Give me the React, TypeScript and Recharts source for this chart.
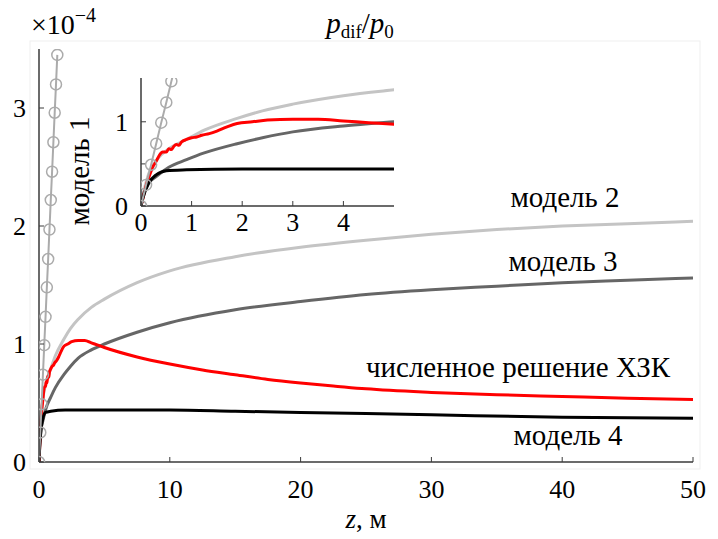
import { LineChart, Line, XAxis, YAxis, CartesianGrid } from 'recharts';

// z in metres, values in units of 1e-4 (p_dif / p_0)
const Z_MODEL1 = [0, 0.1, 0.2, 0.3, 0.4, 0.5, 0.6, 0.7, 0.8, 0.9, 1.0, 1.1, 1.2, 1.3, 1.4];
const V_MODEL1 = [0, 0.25, 0.49, 0.74, 0.99, 1.23, 1.48, 1.72, 1.97, 2.22, 2.46, 2.71, 2.96, 3.2, 3.45];

const Z_MODEL2 = [0, 0.03, 0.15, 0.3, 0.55, 0.9, 1.25, 1.9, 2.4, 3, 4, 5, 7.5, 10, 15, 20, 25, 30, 35, 40, 45, 50];
const V_MODEL2 = [0, 0.1, 0.38, 0.54, 0.68, 0.79, 0.9, 1.04, 1.13, 1.21, 1.31, 1.38, 1.52, 1.62, 1.74, 1.82, 1.88, 1.93, 1.97, 2.0, 2.02, 2.04];

const Z_MODEL3 = [0, 0.03, 0.15, 0.3, 0.55, 0.9, 1.25, 1.9, 2.4, 3, 4, 5, 7.5, 10, 15, 20, 25, 30, 35, 40, 45, 50];
const V_MODEL3 = [0, 0.1, 0.27, 0.35, 0.46, 0.55, 0.63, 0.74, 0.81, 0.88, 0.95, 1.0, 1.1, 1.18, 1.29, 1.36, 1.42, 1.46, 1.49, 1.52, 1.54, 1.56];

const Z_MODEL4 = [0, 0.04, 0.15, 0.3, 0.5, 0.9, 2, 5, 10, 15, 20, 30, 40, 50];
const V_MODEL4 = [0, 0.1, 0.27, 0.37, 0.42, 0.43, 0.44, 0.44, 0.44, 0.43, 0.42, 0.4, 0.38, 0.37];

// numerical solution, with fine noise near the source
const Z_NUM = [0, 0.05, 0.1, 0.16, 0.23, 0.3, 0.36, 0.43, 0.5, 0.55, 0.6, 0.65, 0.7, 0.75, 0.8, 0.9, 1.0, 1.1, 1.2, 1.35, 1.5, 1.7, 1.9, 2.2, 2.5, 3, 3.5, 4, 4.5, 5, 7.5, 10, 12.5, 15, 17.5, 20, 22.5, 25, 30, 35, 40, 45, 50];
const V_NUM = [0, 0.12, 0.24, 0.35, 0.46, 0.53, 0.6, 0.64, 0.64, 0.68, 0.67, 0.71, 0.73, 0.72, 0.76, 0.79, 0.81, 0.82, 0.84, 0.86, 0.89, 0.94, 0.98, 1.0, 1.02, 1.03, 1.03, 1.01, 0.99, 0.97, 0.89, 0.83, 0.78, 0.74, 0.7, 0.67, 0.645, 0.62, 0.59, 0.57, 0.555, 0.54, 0.53];

const MAIN_X_TICKS = [0, 10, 20, 30, 40, 50];
const MAIN_Y_TICKS = [0, 1, 2, 3];
const INSET_X_TICKS = [0, 1, 2, 3, 4];
const INSET_Y_TICKS = [0, 0.5, 1];

const zip = (zs: number[], vs: number[]) => zs.map((z, i) => ({ z, v: vs[i] }));

const model1 = zip(Z_MODEL1, V_MODEL1);
const model2 = zip(Z_MODEL2, V_MODEL2);
const model3 = zip(Z_MODEL3, V_MODEL3);
const model4 = zip(Z_MODEL4, V_MODEL4);
const numeric = zip(Z_NUM, V_NUM);

const FONT = 'Liberation Serif, DejaVu Serif, serif';
const FRAME = '#3a3a3a';
const tickStyle = { fontSize: 26, fill: '#000', fontFamily: FONT };

function curves() {
  const common = { dataKey: 'v', xAxisId: 'b', yAxisId: 'l', isAnimationActive: false };
  return [
    <Line key="m2" {...common} data={model2} type="monotone" stroke="#c4c4c4" strokeWidth={3} dot={false} />,
    <Line key="m3" {...common} data={model3} type="monotone" stroke="#666666" strokeWidth={3} dot={false} />,
    <Line key="num" {...common} data={numeric} type="monotone" stroke="#ff0000" strokeWidth={3} dot={false} />,
    <Line key="m4" {...common} data={model4} type="monotone" stroke="#000000" strokeWidth={3} dot={false} />,
    <Line
      key="m1"
      {...common}
      data={model1}
      type="linear"
      stroke="#ababab"
      strokeWidth={2}
      dot={{ r: 5.5, stroke: '#ababab', strokeWidth: 1.5, fill: 'none' }}
    />,
  ];
}

// box with inward ticks on all four sides
function frame({ xDomain, yDomain, xTicks, yTicks, xMargin, yMargin, yFmt }: any) {
  const line = { stroke: FRAME, strokeWidth: 1.5 };
  return [
    <XAxis
      key="xb"
      xAxisId="b"
      dataKey="z"
      type="number"
      domain={xDomain}
      ticks={xTicks}
      allowDataOverflow
      height={40}
      tickSize={-5}
      tickMargin={xMargin}
      tick={tickStyle}
      axisLine={line}
      tickLine={{ stroke: FRAME }}
    />,
    <XAxis
      key="xt"
      xAxisId="t"
      orientation="top"
      dataKey="z"
      type="number"
      domain={xDomain}
      ticks={xTicks}
      allowDataOverflow
      height={0}
      tickSize={-5}
      tickFormatter={() => ''}
      axisLine={line}
      tickLine={{ stroke: FRAME }}
    />,
    <YAxis
      key="yl"
      yAxisId="l"
      type="number"
      domain={yDomain}
      ticks={yTicks}
      allowDataOverflow
      width={30}
      tickSize={-5}
      tickMargin={yMargin}
      tick={tickStyle}
      tickFormatter={yFmt}
      axisLine={line}
      tickLine={{ stroke: FRAME }}
    />,
    <YAxis
      key="yr"
      yAxisId="r"
      orientation="right"
      type="number"
      domain={yDomain}
      ticks={yTicks}
      allowDataOverflow
      width={0}
      tickSize={-5}
      tickFormatter={() => ''}
      axisLine={line}
      tickLine={{ stroke: FRAME }}
    />,
  ];
}

function MainChart() {
  return (
    <LineChart width={718} height={539} margin={{ top: 49, right: 25, bottom: 37, left: 9 }}>
      {frame({ xDomain: [0, 50], yDomain: [0, 3.5], xTicks: MAIN_X_TICKS, yTicks: MAIN_Y_TICKS, xMargin: 23, yMargin: 18 })}
      {curves()}
    </LineChart>
  );
}

function InsetChart() {
  return (
    <LineChart width={310} height={200} margin={{ top: 18, right: 16, bottom: 14, left: 11 }}>
      <CartesianGrid xAxisId="b" yAxisId="l" horizontal={false} vertical={false} fill="#ffffff" />
      {frame({
        xDomain: [0, 5],
        yDomain: [0, 1.52],
        xTicks: INSET_X_TICKS,
        yTicks: INSET_Y_TICKS,
        xMargin: 12,
        yMargin: 18,
        yFmt: (v: number) => (Number.isInteger(v) ? String(v) : ''),
      })}
      {curves()}
    </LineChart>
  );
}

function Labels() {
  const t = { fontFamily: FONT, fontSize: 29, fill: '#000' };
  return (
    <svg width={718} height={539} style={{ position: 'absolute', left: 0, top: 0, pointerEvents: 'none' }}>
      <rect x={30} y={41} width={670} height={428} fill="none" stroke="#efefef" strokeWidth={1} />
      <text x={31} y={34} {...t} fontSize={28}>
        ×10<tspan dy={-12} fontSize={20}>−4</tspan>
      </text>
      <text x={360} y={33} textAnchor="middle" {...t}>
        <tspan fontStyle="italic">p</tspan>
        <tspan fontSize={19} dy={5}>dif</tspan>
        <tspan dy={-5}>/</tspan>
        <tspan fontStyle="italic">p</tspan>
        <tspan fontSize={19} dy={5}>0</tspan>
      </text>
      <text x={366} y={528} textAnchor="middle" {...t} fontSize={27}>
        <tspan fontStyle="italic">z</tspan>, м
      </text>
      <text x={0} y={0} textAnchor="middle" transform="translate(89 171) rotate(-90)" {...t}>
        модель 1
      </text>
      <text x={565} y={207} textAnchor="middle" {...t}>модель 2</text>
      <text x={563} y={271} textAnchor="middle" {...t}>модель 3</text>
      <text x={518} y={377} textAnchor="middle" {...t}>численное решение ХЗК</text>
      <text x={568} y={445} textAnchor="middle" {...t}>модель 4</text>
    </svg>
  );
}

export default function App() {
  return (
    <div style={{ position: 'absolute', left: 0, top: 0, width: 718, height: 539, background: '#fff' }}>
      <div style={{ position: 'absolute', left: 0, top: 0 }}>
        <MainChart />
      </div>
      <div style={{ position: 'absolute', left: 100, top: 60 }}>
        <InsetChart />
      </div>
      <Labels />
    </div>
  );
}
